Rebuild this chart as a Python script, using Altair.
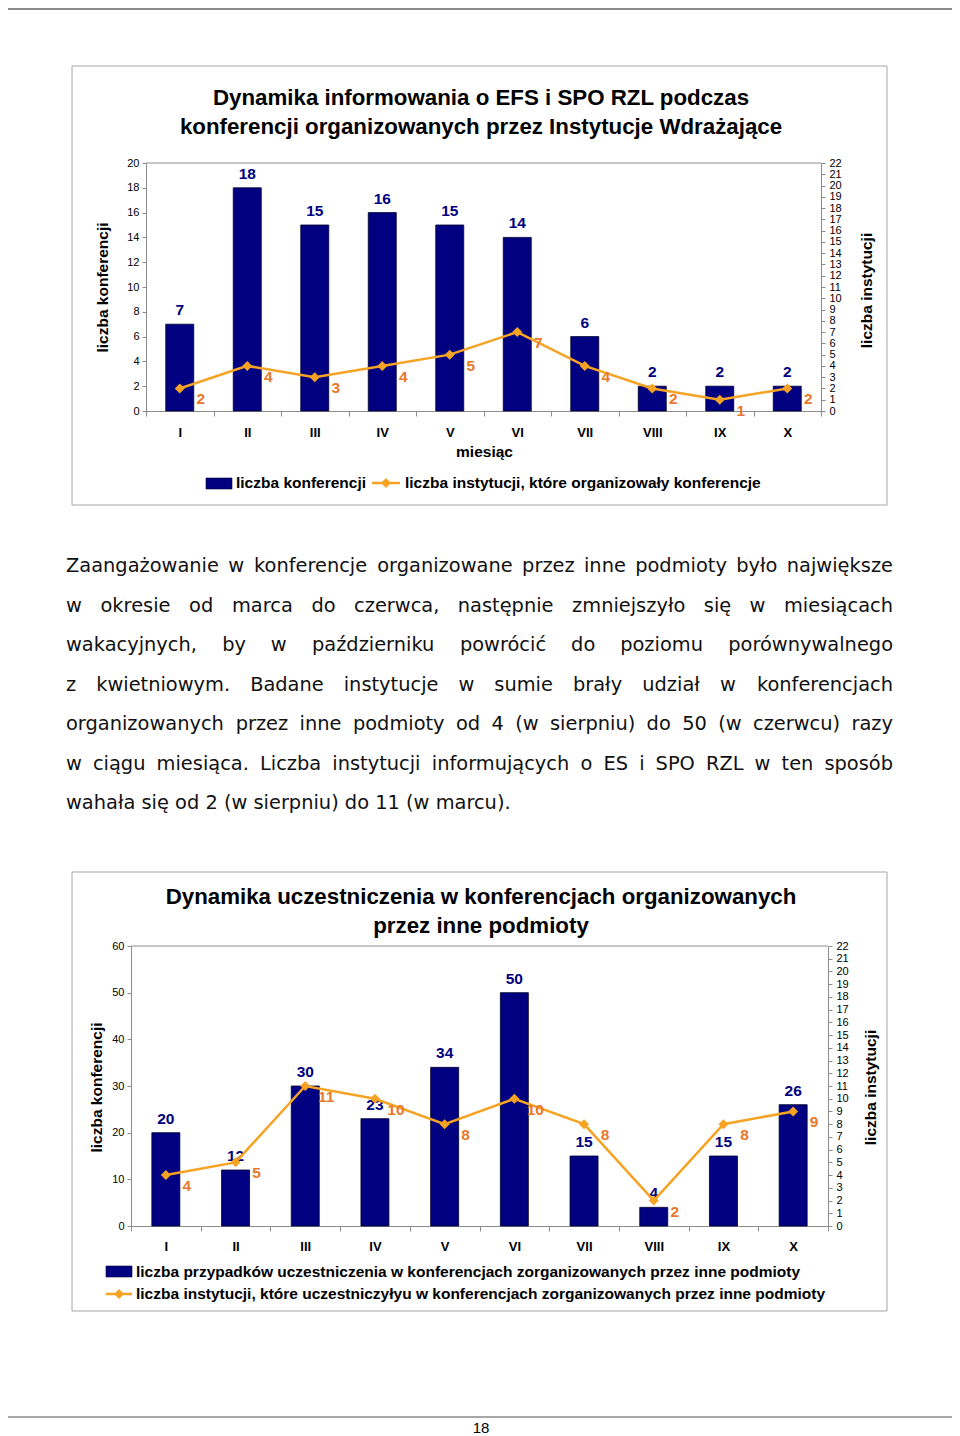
import altair as alt
import pandas as pd

# ---------------- data ----------------
months = ["I", "II", "III", "IV", "V", "VI", "VII", "VIII", "IX", "X"]
conf_count = [7, 18, 15, 16, 15, 14, 6, 2, 2, 2]
conf_inst = [2, 4, 3, 4, 5, 7, 4, 2, 1, 2]
part_count = [20, 12, 30, 23, 34, 50, 15, 4, 15, 26]
part_inst = [4, 5, 11, 10, 8, 10, 8, 2, 8, 9]

title1 = ["Dynamika informowania o EFS i SPO RZL podczas",
          "konferencji organizowanych przez Instytucje Wdrażające"]
title2 = ["Dynamika uczestniczenia w konferencjach organizowanych",
          "przez inne podmioty"]
legend1 = ["liczba konferencji",
           "liczba instytucji, które organizowały konferencje"]
legend2 = ["liczba przypadków uczestniczenia w konferencjach zorganizowanych przez inne podmioty",
           "liczba instytucji, które uczestniczyłyu w konferencjach zorganizowanych przez inne podmioty"]
left_title = "liczba konferencji"
right_title = "liczba instytucji"
x_title1 = "miesiąc"
page_number = "18"
paragraph = [
    "Zaangażowanie w konferencje organizowane przez inne podmioty było największe",
    "w okresie od marca do czerwca, następnie zmniejszyło się w miesiącach",
    "wakacyjnych, by w październiku powrócić do poziomu porównywalnego",
    "z kwietniowym. Badane instytucje w sumie brały udział w konferencjach",
    "organizowanych przez inne podmioty od 4 (w sierpniu) do 50 (w czerwcu) razy",
    "w ciągu miesiąca. Liczba instytucji informujących o ES i SPO RZL w ten sposób",
    "wahała się od 2 (w sierpniu) do 11 (w marcu).",
]

# ---------------- style ----------------
NAVY = "#000080"
ORANGE = "#F6A323"
ORANGE_TXT = "#E8782A"
GRAY = "#8C8C8C"
FRAME = "#A6A6A6"
FONT = "Liberation Sans"
PFONT = "DejaVu Sans"
PFS = 19.4
ONE = pd.DataFrame({"a": [0]})

# approximate DejaVu Sans advance widths (units / 2048) used to justify the paragraph
CW = {" ": 651, "a": 1255, "b": 1300, "c": 1126, "d": 1300, "e": 1260, "f": 721, "g": 1300,
      "h": 1298, "i": 569, "j": 569, "k": 1186, "l": 569, "m": 1995, "n": 1298, "o": 1253,
      "p": 1300, "q": 1300, "r": 842, "s": 1067, "t": 803, "u": 1298, "v": 1212, "w": 1675,
      "x": 1212, "y": 1212, "z": 1075, "ą": 1255, "ć": 1126, "ę": 1260, "ł": 600, "ń": 1298,
      "ó": 1253, "ś": 1067, "ź": 1075, "ż": 1075, "Z": 1403, "B": 1405, "L": 1141, "E": 1294,
      "S": 1300, "I": 604, "P": 1235, "O": 1612, "R": 1423, "(": 799, ")": 799, ",": 651,
      ".": 651}


def tw(s):
    return sum(CW.get(ch, 1300 if ch.isdigit() else 1200) for ch in s) / 2048 * PFS


def tx(text, x, y, size, weight="normal", color="#000000", align="center", font=FONT):
    return alt.Chart(ONE).mark_text(text=text, align=align, baseline="middle", fontSize=size,
                                    fontWeight=weight, color=color, font=font).encode(
        x=alt.value(x), y=alt.value(y))


def box(x1, y1, x2, y2):
    return alt.Chart(ONE).mark_rect(fillOpacity=0, stroke=FRAME, strokeWidth=1).encode(
        x=alt.value(x1), x2=alt.value(x2), y=alt.value(y1), y2=alt.value(y2))


def hrule(x1, x2, y, color=GRAY, sw=1.0):
    return alt.Chart(ONE).mark_rule(color=color, strokeWidth=sw).encode(
        x=alt.value(x1), x2=alt.value(x2), y=alt.value(y))


def legend_bar(x1, x2, y1, y2):
    return alt.Chart(ONE).mark_rect(color=NAVY, stroke="#000030", strokeWidth=0.6).encode(
        x=alt.value(x1), x2=alt.value(x2), y=alt.value(y1), y2=alt.value(y2))


def legend_line(x1, x2, y):
    ln = hrule(x1, x2, y, ORANGE, 2.5)
    pt = alt.Chart(ONE).mark_point(shape="diamond", filled=True, size=100, color=ORANGE,
                                   opacity=1).encode(x=alt.value((x1 + x2) / 2), y=alt.value(y))
    return [ln, pt]


def panel(bar_vals, line_vals, x_range, y_range, left_max, left_step, off_l, off_r, off_x,
          lt_pos, rt_pos, label_pad, right_fs, x_title=None, xt_pos=None):
    df = pd.DataFrame({"m": months, "v": bar_vals, "w": line_vals})

    def xs():
        return alt.Scale(domain=months, range=x_range, paddingInner=0, paddingOuter=0)

    def ys_l():
        return alt.Scale(domain=[0, left_max], range=y_range, nice=False)

    def ys_r():
        return alt.Scale(domain=[0, 22], range=y_range, nice=False)

    common = dict(domainColor=GRAY, tickColor=GRAY, labelColor="#000000", labelFont=FONT,
                  titleFont=FONT, titleFontWeight="bold", titleFontSize=15.5,
                  titleColor="#000000", grid=False)
    x_kw = dict(common)
    if x_title is not None:
        x_kw.update(titleX=xt_pos[0], titleY=xt_pos[1], titleAlign="center",
                    titleBaseline="middle", titleAngle=0)
    x_axis = alt.Axis(orient="bottom", offset=off_x, tickBand="extent", tickSize=5,
                      labelFontSize=13, labelFontWeight="bold", labelPadding=label_pad,
                      labelBaseline="middle", labelAngle=0, **x_kw)
    l_axis = alt.Axis(orient="left", offset=off_l, values=list(range(0, left_max + 1, left_step)),
                      tickSize=4, labelPadding=3, labelFontSize=11, titleX=lt_pos[0],
                      titleY=lt_pos[1], titleAngle=270, titleAlign="center",
                      titleBaseline="middle", **common)
    r_axis = alt.Axis(orient="right", offset=off_r, values=list(range(0, 23)), tickSize=4,
                      labelPadding=4, labelFontSize=right_fs, titleX=rt_pos[0],
                      titleY=rt_pos[1], titleAngle=270, titleAlign="center",
                      titleBaseline="middle", **common)

    bars = alt.Chart(df).mark_bar(size=28, color=NAVY, stroke="#00002a", strokeWidth=0.8).encode(
        x=alt.X("m:N", scale=xs(), axis=x_axis, title=x_title),
        y=alt.Y("v:Q", scale=ys_l(), axis=l_axis, title=left_title))
    blab = alt.Chart(df).mark_text(dy=-14, fontSize=15.5, fontWeight="bold", color=NAVY,
                                   font=FONT).encode(
        x=alt.X("m:N", scale=xs(), axis=None),
        y=alt.Y("v:Q", scale=ys_l(), axis=None),
        text="v:Q")
    line = alt.Chart(df).mark_line(color=ORANGE, strokeWidth=2.5).encode(
        x=alt.X("m:N", scale=xs(), axis=None),
        y=alt.Y("w:Q", scale=ys_r(), axis=r_axis, title=right_title))
    pts = alt.Chart(df).mark_point(shape="diamond", filled=True, size=100, color=ORANGE,
                                   opacity=1).encode(
        x=alt.X("m:N", scale=xs(), axis=None),
        y=alt.Y("w:Q", scale=ys_r(), axis=None))
    llab = alt.Chart(df).mark_text(dx=21, dy=11, fontSize=15.5, fontWeight="bold",
                                   color=ORANGE_TXT, font=FONT).encode(
        x=alt.X("m:N", scale=xs(), axis=None),
        y=alt.Y("w:Q", scale=ys_r(), axis=None),
        text="w:Q")
    return [bars, blab, line, pts, llab]


# ---------------- paragraph layout (justified) ----------------
X0, X1 = 58, 885
rows = []
for i, ln in enumerate(paragraph):
    y = 558 + i * 39.5
    if i == len(paragraph) - 1:
        rows.append({"t": ln, "x": X0, "y": y, "a": "left"})
        continue
    words = ln.split(" ")
    widths = [tw(w) for w in words]
    gap = (X1 - X0 - sum(widths)) / (len(words) - 1)
    cur = X0
    for j, (w, wd) in enumerate(zip(words, widths)):
        if j == 0:
            rows.append({"t": w, "x": X0, "y": y, "a": "left"})
        elif j == len(words) - 1:
            rows.append({"t": w, "x": X1, "y": y, "a": "right"})
        else:
            rows.append({"t": w, "x": cur + wd / 2, "y": y, "a": "center"})
        cur += wd + gap
words_df = pd.DataFrame(rows)


def words_layer(align):
    return alt.Chart(words_df[words_df["a"] == align]).mark_text(
        align=align, baseline="middle", fontSize=PFS, font=PFONT, color="#111111").encode(
        x=alt.X("x:Q", scale=None), y=alt.Y("y:Q", scale=None), text="t:N")


# ---------------- assemble ----------------
layers = [
    hrule(0, 944, 1, "#8A8A8A", 2),
    box(64, 58, 879, 497),
    box(64, 864, 879, 1303),
    hrule(138, 813, 155),
    hrule(123, 820, 938),
    tx(title1[0], 473, 90, 22.3, "bold"),
    tx(title1[1], 473, 119, 22.3, "bold"),
    tx(title2[0], 473, 889, 22.3, "bold"),
    tx(title2[1], 473, 918, 22.3, "bold"),
    *panel(conf_count, conf_inst, [138, 813], [403, 155], 20, 2, -138, -131, -1025,
           (-44, 279), (45, 282), 16, 11, x_title1, (476, 40)),
    *panel(part_count, part_inst, [123, 820], [1218, 938], 60, 10, -123, -124, -210,
           (-35, 1079), (42, 1079), 15, 11),
    legend_bar(198, 224, 470, 481),
    tx(legend1[0], 228, 475, 15.5, "bold", align="left"),
    *legend_line(364, 392, 475),
    tx(legend1[1], 397, 475, 15.5, "bold", align="left"),
    legend_bar(98, 124, 1258, 1269),
    tx(legend2[0], 128, 1264, 15.5, "bold", align="left"),
    *legend_line(98, 124, 1286),
    tx(legend2[1], 128, 1286, 15.5, "bold", align="left"),
    words_layer("left"),
    words_layer("center"),
    words_layer("right"),
    hrule(0, 944, 1409, "#8A8A8A", 1.5),
    tx(page_number, 473, 1420, 15),
]

chart = alt.layer(*layers).resolve_scale(x="independent", y="independent").properties(
    width=944, height=1428, autosize=alt.AutoSizeParams(type="none"), padding=0
).configure_view(strokeWidth=0).configure_axis(grid=False)

chart.save("out.html", embed_options={"renderer": "svg", "actions": False})
